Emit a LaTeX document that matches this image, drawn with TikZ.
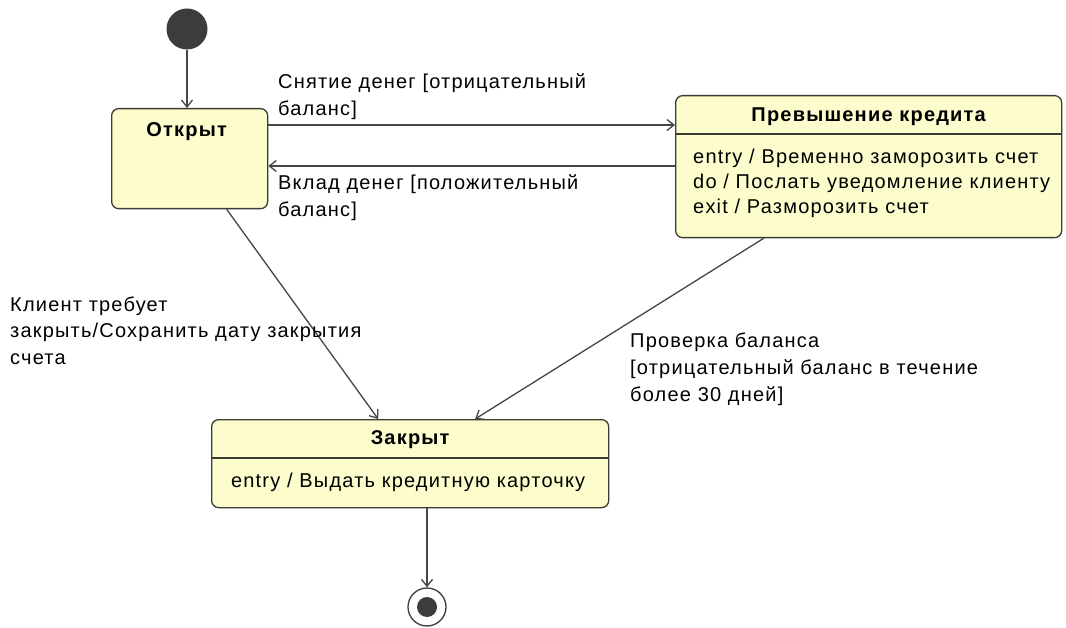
\documentclass[tikz,border=0pt]{standalone}
\usepackage{fontspec}
\setmainfont[LetterSpace=6]{Liberation Sans}
\usetikzlibrary{arrows.meta}
\definecolor{statefill}{RGB}{253,252,204}
\definecolor{stateline}{RGB}{60,60,50}
\definecolor{wire}{RGB}{70,70,70}
\definecolor{dot}{RGB}{60,60,60}
\begin{document}
\begin{tikzpicture}[x=1pt,y=-1pt,
  statebox/.style={draw=stateline,line width=1.3pt,fill=statefill,rounded corners=7pt,
    rectangle,anchor=north west,inner sep=0pt},
  title/.style={font=\fontsize{20}{25}\selectfont\bfseries,inner sep=0pt},
  txt/.style={font=\fontsize{20}{27}\selectfont,align=left,inner sep=0pt,anchor=base west},
  body/.style={font=\fontsize{20}{25}\selectfont,align=left,inner sep=0pt,anchor=base west},
  arr/.style={draw=wire,line width=1.3pt,-{Straight Barb[length=7pt,width=11pt]}}]
\useasboundingbox[fill=white] (0,0) rectangle (1066,628);

% initial and final pseudo-states
\node[circle,fill=dot,minimum size=41pt,inner sep=0pt] (init) at (187,29) {};
\node[circle,draw=dot,line width=1.3pt,fill=white,minimum size=38pt,inner sep=0pt] (final) at (427,607) {};
\node[circle,fill=dot,minimum size=20pt,inner sep=0pt] (finaldot) at (final.center) {};

% states
\node[statebox,minimum width=156pt,minimum height=100pt] (open) at (111,108) {};
\node[title] (opentitle) at ([xshift=-3pt,yshift=-24pt]open.north) {Открыт};

\node[statebox,minimum width=386pt,minimum height=142pt] (over) at (675,95) {};
\node[title] (overtitle) at ([yshift=-22pt]over.north) {Превышение кредита};
\draw[stateline,line width=1.1pt] ([yshift=-39pt]over.north west) -- ([yshift=-39pt]over.north east);
\node[body] (overbody) at ([xshift=18pt,yshift=-119pt]over.north west)
  {entry / Временно заморозить счет\\do / Послать уведомление клиенту\\exit / Разморозить счет};

\node[statebox,minimum width=397pt,minimum height=88pt] (closed) at (211,419) {};
\node[title] (closedtitle) at ([yshift=-21pt]closed.north) {Закрыт};
\draw[stateline,line width=1.1pt] ([yshift=-39pt]closed.north west) -- ([yshift=-39pt]closed.north east);
\node[font=\fontsize{20}{25}\selectfont,inner sep=0pt,anchor=base] (closedbody)
  at ([xshift=-2pt,yshift=-68pt]closed.north) {entry / Выдать кредитную карточку};

% transitions
\draw[arr] (init.south) -- (init.south |- open.north);
\draw[arr] ([yshift=-17pt]open.north east) -- ([yshift=-17pt]open.north east -| over.west);
\draw[arr] ([yshift=-58pt]open.north east -| over.west) -- ([yshift=-58pt]open.north east);
\draw[arr] ([xshift=37pt]open.south) -- ([xshift=-32pt]closed.north);
\draw[arr] ([xshift=-105pt]over.south) -- ([xshift=65pt]closed.north);
\draw[arr] (final.north |- closed.south) -- (final.north);

% transition labels (anchored at the baseline of their last line)
\node[txt] (lblout) at (278,116) {Снятие денег [отрицательный\\баланс]};
\node[txt] (lblin) at (278,217) {Вклад денег [положительный\\баланс]};
\node[txt] (lblclose) at (10,365) {Клиент требует\\закрыть/Сохранить дату закрытия\\счета};
\node[txt] (lblcheck) at (630,401) {Проверка баланса\\{[}отрицательный баланс в течение\\более 30 дней]};
\end{tikzpicture}
\end{document}
